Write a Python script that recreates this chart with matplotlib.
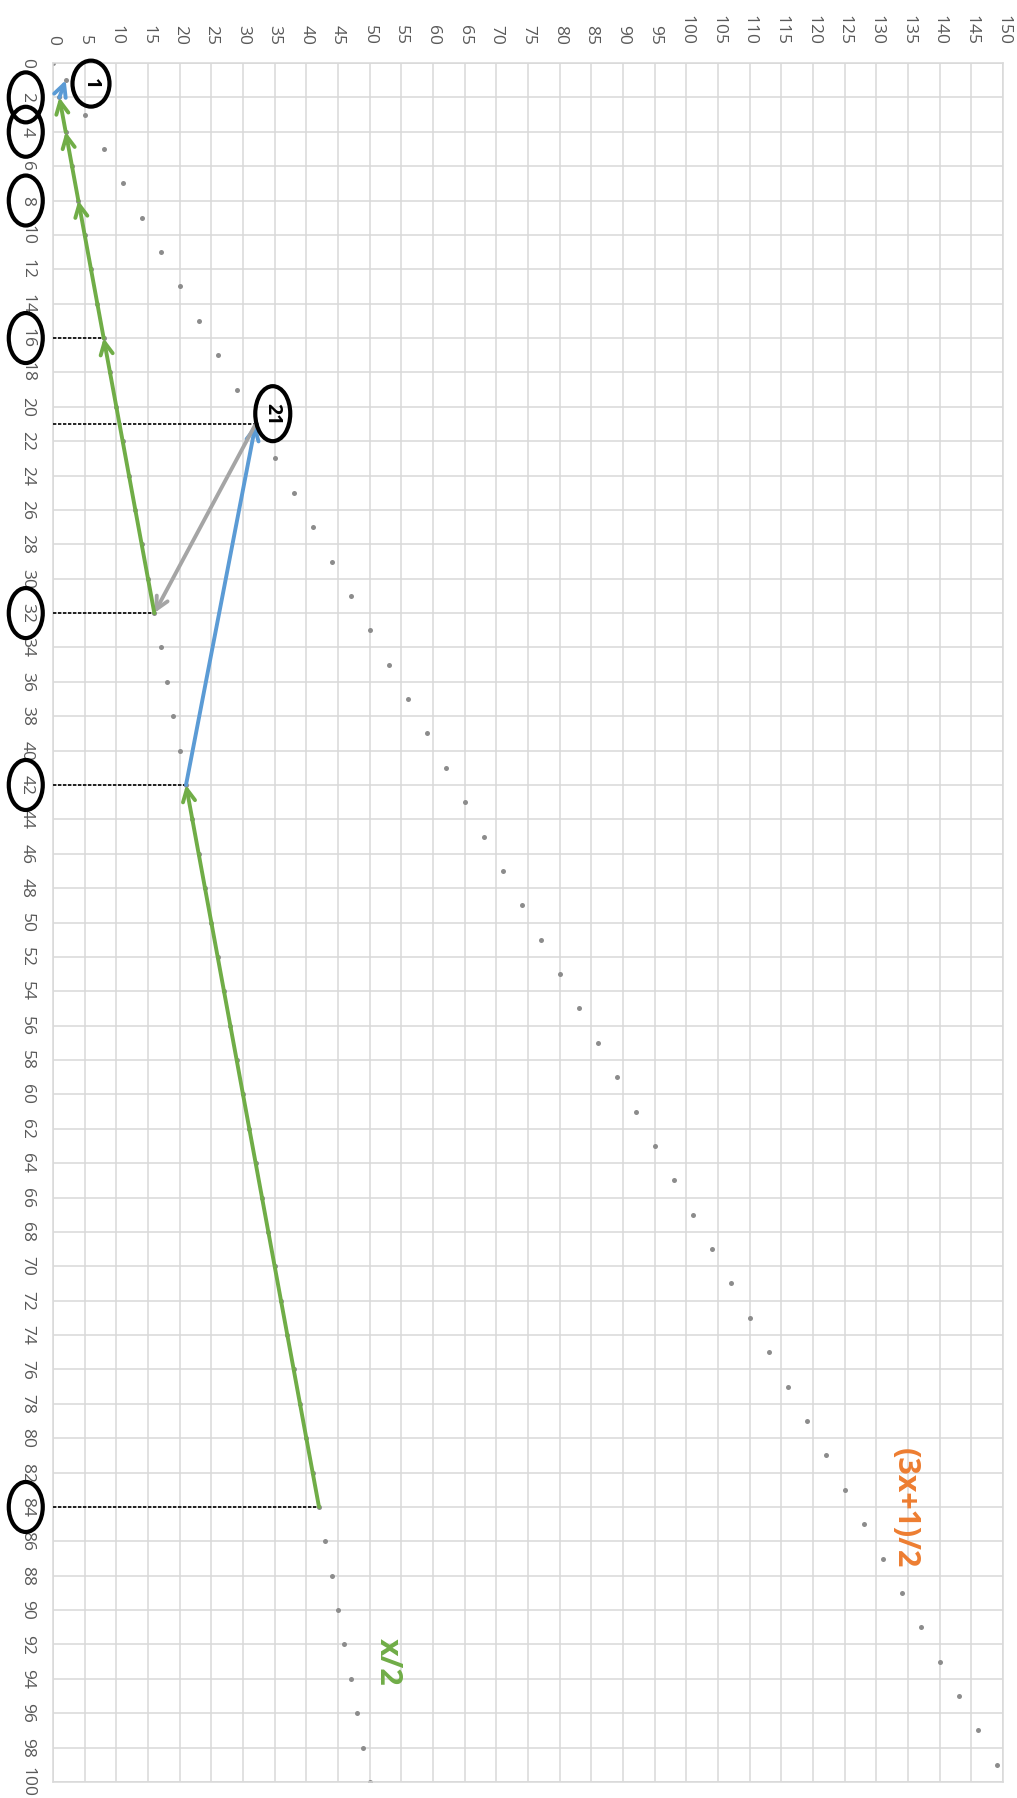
import matplotlib.pyplot as plt
from matplotlib.patches import Ellipse

# 数据：x 为偶数时 x/2，x 为奇数时 (3x+1)/2
even_x = [0, 2, 4, 6, 8, 10, 12, 14, 16, 18, 20, 22, 24, 26, 28, 30, 32, 34, 36, 38,
          40, 42, 44, 46, 48, 50, 52, 54, 56, 58, 60, 62, 64, 66, 68, 70, 72, 74, 76, 78,
          80, 82, 84, 86, 88, 90, 92, 94, 96, 98, 100]
even_y = [0, 1, 2, 3, 4, 5, 6, 7, 8, 9, 10, 11, 12, 13, 14, 15, 16, 17, 18, 19,
          20, 21, 22, 23, 24, 25, 26, 27, 28, 29, 30, 31, 32, 33, 34, 35, 36, 37, 38, 39,
          40, 41, 42, 43, 44, 45, 46, 47, 48, 49, 50]
odd_x = [1, 3, 5, 7, 9, 11, 13, 15, 17, 19, 21, 23, 25, 27, 29, 31, 33, 35, 37, 39,
         41, 43, 45, 47, 49, 51, 53, 55, 57, 59, 61, 63, 65, 67, 69, 71, 73, 75, 77, 79,
         81, 83, 85, 87, 89, 91, 93, 95, 97, 99]
odd_y = [2, 5, 8, 11, 14, 17, 20, 23, 26, 29, 32, 35, 38, 41, 44, 47, 50, 53, 56, 59,
         62, 65, 68, 71, 74, 77, 80, 83, 86, 89, 92, 95, 98, 101, 104, 107, 110, 113, 116, 119,
         122, 125, 128, 131, 134, 137, 140, 143, 146, 149]

# 轨迹 84 -> 42 -> 21 -> 32 -> 16 -> 8 -> 4 -> 2 -> 1
path_from = [(84, 42), (42, 21), (21, 32), (32, 16), (16, 8), (8, 4), (4, 2), (2, 1)]
path_to = [(42, 21), (21, 32), (32, 16), (16, 8), (8, 4), (4, 2), (2, 1), (1, 2)]
path_kind = ['half', 'odd', 'back', 'half', 'half', 'half', 'half', 'odd']

marked_x = [16, 21, 32, 42, 84]
marked_y = [8, 32, 16, 21, 42]
circled_ticks = [2, 4, 8, 16, 32, 42, 84]

x_ticks = list(range(0, 101, 2))
y_ticks = list(range(0, 151, 5))

colors = {'half': '#70AD47', 'odd': '#5B9BD5', 'back': '#A5A5A5'}

W, H = 1017, 1798
fig = plt.figure(figsize=(W / 100, H / 100), dpi=100)
plt.rcParams['font.family'] = ['Open Sans', 'DejaVu Sans']

# 坐标轴区域（图像是 Excel 图表顺时针旋转 90°）
left, right, top, bottom = 53, 1003, 63, 1782
ax = fig.add_axes([left / W, 1 - bottom / H, (right - left) / W, (bottom - top) / H])
ax.set_xlim(0, 150)
ax.set_ylim(100, 0)

ax.set_xticks(y_ticks)
ax.set_yticks(x_ticks)
ax.xaxis.tick_top()
ax.tick_params(axis='both', length=0, labelsize=12.5, labelcolor='#595959')
ax.tick_params(axis='x', pad=13)
ax.tick_params(axis='y', pad=13)
for lab in ax.get_xticklabels():
    lab.set_rotation(-90)
for lab in ax.get_yticklabels():
    lab.set_rotation(-90)
    lab.set_va('center')

ax.grid(True, color='#D9D9D9', lw=1.1)
ax.set_axisbelow(True)
for sp in ax.spines.values():
    sp.set_color('#D9D9D9')
    sp.set_linewidth(1.1)

# 散点
ax.plot(even_y, even_x, 'o', color='#8C8C8C', ms=3.6, mec='none', zorder=2)
ax.plot(odd_y, odd_x, 'o', color='#8C8C8C', ms=3.6, mec='none', zorder=2)

# 虚线
for xv, yv in zip(marked_x, marked_y):
    ax.plot([0, yv], [xv, xv], color='black', lw=1.2, ls=(0, (2, 1)), zorder=3)

# 箭头
for (x0, y0), (x1, y1), kind in zip(path_from, path_to, path_kind):
    ax.annotate('', xy=(y1, x1), xytext=(y0, x0),
                arrowprops=dict(arrowstyle='->', color=colors[kind], lw=2.8,
                                shrinkA=0, shrinkB=0, mutation_scale=22),
                zorder=4)

# 圆圈标注
px_x = 150 / (right - left)
px_y = 100 / (bottom - top)
for t in circled_ticks:
    e = Ellipse((-4.3, t), 34 * px_x, 50 * px_y, fill=False, ec='black', lw=3.0,
                clip_on=False, zorder=5)
    ax.add_patch(e)

for label, cx, cy, w, h in [('1', 6.0, 1.2, 37, 46), ('21', 34.7, 20.4, 35, 55)]:
    ax.add_patch(Ellipse((cx, cy), w * px_x, h * px_y, fill=False, ec='black', lw=3.0,
                         clip_on=False, zorder=5))
    ax.text(cx, cy, label, rotation=-90, ha='center', va='center', fontsize=14,
            fontweight='bold', color='black', zorder=6)

ax.text(134.5, 84.1, '(3x+1)/2', rotation=-90, ha='center', va='center', fontsize=22,
        fontweight='bold', color='#ED7D31', zorder=6)
ax.text(52.9, 93.0, 'x/2', rotation=-90, ha='center', va='center', fontsize=22,
        fontweight='bold', color='#70AD47', zorder=6)

fig.savefig('out.png', dpi=100)
